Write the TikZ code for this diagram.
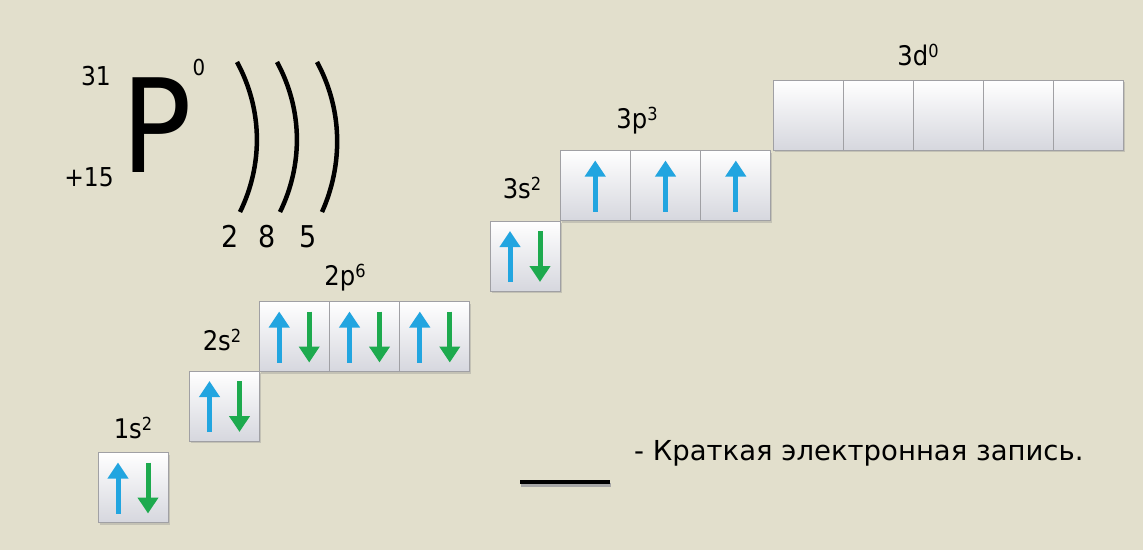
\documentclass[tikz,border=0pt]{standalone}
\usepackage{fontspec}
\setmainfont{DejaVu Sans Condensed}
\newfontfamily\legfont{DejaVu Sans}
\usetikzlibrary{arrows.meta,shadows}
\definecolor{bg}{HTML}{E2DFCC}
\definecolor{upc}{HTML}{22A5E0}
\definecolor{dnc}{HTML}{1DAA4E}
\definecolor{boxline}{HTML}{A0A0A4}
\definecolor{boxbot}{HTML}{D6D7DE}
\newcommand\spw[1]{\raisebox{7.5pt}{\fontsize{18}{18}\selectfont #1}}
\newcommand\updn[1]{%
  \draw[upa] ([shift={(-15,26)}]#1.center) -- ([shift={(-15,-25)}]#1.center);
  \draw[dna] ([shift={(15,-25)}]#1.center) -- ([shift={(15,26)}]#1.center);}
\newcommand\uponly[1]{%
  \draw[upa] ([shift={(0,26)}]#1.center) -- ([shift={(0,-25)}]#1.center);}
\begin{document}
\begin{tikzpicture}[x=1pt,y=-1pt,
  orb/.style={draw=boxline, line width=1pt, minimum size=70pt, inner sep=0pt,
    top color=white, bottom color=boxbot,
    drop shadow={shadow xshift=1.5pt, shadow yshift=-2pt, opacity=0.3}},
  upa/.style={draw=upc, line width=5pt, -{Triangle[width=20pt,length=16pt]}},
  dna/.style={draw=dnc, line width=5pt, -{Triangle[width=20pt,length=16pt]}},
  lbl/.style={font=\fontsize{27}{27}\selectfont, anchor=base, inner sep=0pt},
  shell/.style={line width=4.5pt, draw=black},
  num/.style={font=\fontsize{30}{30}\selectfont, anchor=base, inner sep=0pt}]
\fill[bg] (0,0) rectangle (1143,550);
\useasboundingbox (0,0) rectangle (1143,550);

% orbital boxes
\node[orb] (s1) at (133,487.5) {};
\node[orb] (s2) at (224.5,406) {};
\node[orb] (p2a) at (294.2,336.5) {};
\node[orb] (p2b) at (364.5,336.5) {};
\node[orb] (p2c) at (434.8,336.5) {};
\node[orb] (s3) at (525,256) {};
\node[orb] (p3a) at (595.2,185.5) {};
\node[orb] (p3b) at (665.5,185.5) {};
\node[orb] (p3c) at (735.8,185.5) {};
\node[orb] (d3a) at (808,115) {};
\node[orb] (d3b) at (878,115) {};
\node[orb] (d3c) at (948,115) {};
\node[orb] (d3d) at (1018,115) {};
\node[orb] (d3e) at (1088,115) {};

\updn{s1}
\updn{s2}
\updn{p2a}
\updn{p2b}
\updn{p2c}
\updn{s3}
\uponly{p3a}
\uponly{p3b}
\uponly{p3c}

% sublevel labels
\node[lbl] (l1s) at (133,438) {1s\spw{2}};
\node[lbl] (l2s) at (222,350) {2s\spw{2}};
\node[lbl] (l2p) at (345,285) {2p\spw{6}};
\node[lbl] (l3s) at (522,198) {3s\spw{2}};
\node[lbl] (l3p) at (637,128) {3p\spw{3}};
\node[lbl] (l3d) at (918,65) {3d\spw{0}};

% element
\node[font=\fontsize{130}{130}\selectfont, anchor=base, inner sep=0pt] (P) at (157,172) {P};
\node[font=\fontsize{26}{26}\selectfont, anchor=base, inner sep=0pt] (mass) at (96,85) {31};
\node[font=\fontsize{26}{26}\selectfont, anchor=base, inner sep=0pt] (z) at (89,186) {+15};
\node[font=\fontsize{22}{22}\selectfont, anchor=base, inner sep=0pt] (ch) at (199,75) {0};

% shells
\draw[shell] (237,62) .. controls (263,110) and (263,165) .. (240,212);
\draw[shell] (277,62) .. controls (303,110) and (303,165) .. (280,212);
\draw[shell] (317,62) .. controls (343,110) and (343,165) .. (322,212);
\node[num] (n1) at (230,247) {2};
\node[num] (n2) at (267,247) {8};
\node[num] (n3) at (308,247) {5};

% legend
\coordinate (la) at (520,482);
\coordinate (lb) at (610,482);
\draw[line width=4pt, black!35] ([shift={(1,3)}]la) -- ([shift={(1,3)}]lb);
\draw[line width=4pt, black] (la) -- (lb);
\node[anchor=base west, font=\legfont\fontsize{27.5}{27.5}\selectfont, inner sep=0pt] (leg) at (634,460) {- Краткая электронная запись.};
\end{tikzpicture}
\end{document}
